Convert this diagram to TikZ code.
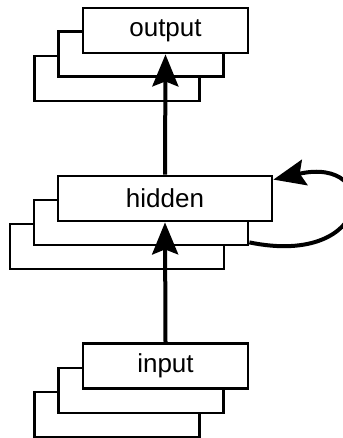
\documentclass[tikz,border=0pt]{standalone}
\usepackage{fontspec}
\setmainfont{Liberation Sans}
\usetikzlibrary{arrows.meta}
\begin{document}
\begin{tikzpicture}[x=1pt,y=-1pt,
  layer/.style={draw=black, fill=white, line width=2.8pt, rectangle, inner sep=0pt,
    minimum height=45pt, font=\fontsize{26}{30}\selectfont},
  smallbox/.style={layer, minimum width=165pt},
  widebox/.style={layer, minimum width=214pt},
  conn/.style={line width=4pt, -{Stealth[length=32pt,width=26pt,inset=5pt]}}]
\useasboundingbox (0,0) rectangle (342,438);
% output stack
\node[smallbox] (out3) at (117,78.5) {};
\node[smallbox] (out2) at (141,54) {};
\node[smallbox] (out) at (165.5,30.5) {output};
% hidden stack
\node[widebox] (hid3) at (117,246.5) {};
\node[widebox] (hid2) at (141,222.5) {};
\node[widebox] (hid) at (165,198.5) {hidden};
% input stack
\node[smallbox] (inp3) at (117,414.5) {};
\node[smallbox] (inp2) at (141,390.5) {};
\node[smallbox] (inp) at (165.5,366) {input};
% connectors
\draw[conn] (inp.north) -- (hid.south);
\draw[conn] (hid.north) -- (out.south);
\draw[conn] ([yshift=4pt]hid2.south east) .. controls (374,268) and (382,155) .. ([yshift=-5pt]hid.north east);
\end{tikzpicture}
\end{document}
